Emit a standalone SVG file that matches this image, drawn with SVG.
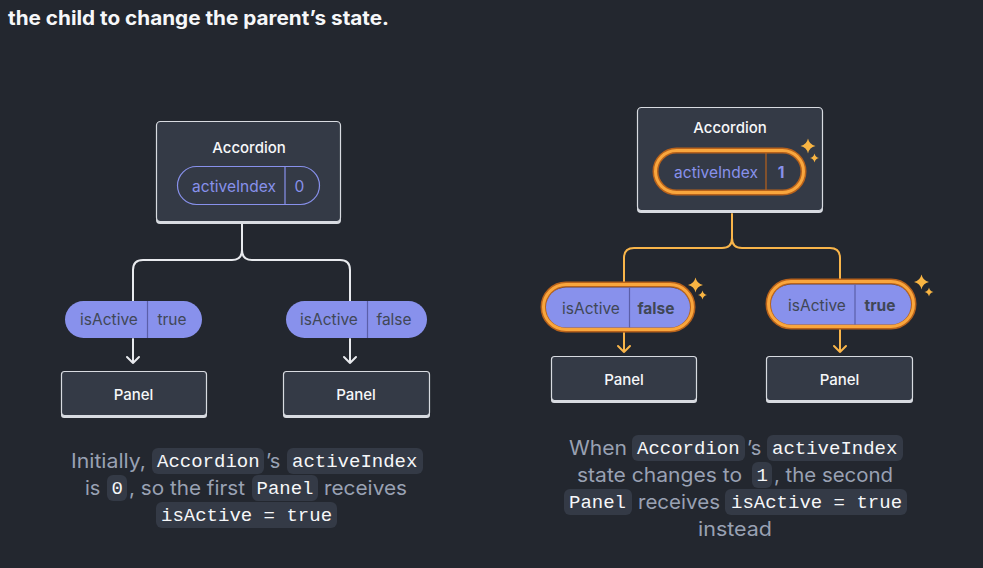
<svg xmlns="http://www.w3.org/2000/svg" width="983" height="568" viewBox="0 0 983 568">
<defs>
<style>
.bg{fill:#23272f}
.title{font-family:Inter,"Liberation Sans",sans-serif;font-weight:700;font-size:19.5px;fill:#f6f7f9}
.boxsh{fill:#d8dbe1}
.box{fill:#343a46;stroke:#d8dbe1;stroke-width:1.2}
.lbl{font-family:Inter,"Liberation Sans",sans-serif;font-weight:500;font-size:15px;fill:#f6f7f9;text-anchor:middle}
.ptxt{font-family:Inter,"Liberation Sans",sans-serif;font-size:15.5px;fill:#404756;text-anchor:middle}
.ptxtb{font-family:Inter,"Liberation Sans",sans-serif;font-size:15.5px;font-weight:700;fill:#404756;text-anchor:middle}
.stxt{font-family:Inter,"Liberation Sans",sans-serif;font-size:15.5px;fill:#8891ec;text-anchor:middle}
.stxtb{font-family:Inter,"Liberation Sans",sans-serif;font-size:15.5px;font-weight:700;fill:#8891ec;text-anchor:middle}
.pill{fill:#8891ec}
.div{stroke:#5b5fa8;stroke-width:1.2}
.spill{fill:none;stroke:#8891ec;stroke-width:1.2}
.ringo{fill:none;stroke:#b8621b;stroke-width:6}
.ringi{fill:none;stroke:#f9a63d;stroke-width:3}
.wline{fill:none;stroke:#e8eaee;stroke-width:2;stroke-linecap:round;stroke-linejoin:round}
.oline{fill:none;stroke:#f9b54a;stroke-width:2;stroke-linecap:round;stroke-linejoin:round}
.cap{font-family:Inter,"Liberation Sans",sans-serif;font-size:20px;fill:#99a1b3}
.code{font-family:"Liberation Mono","DejaVu Sans Mono",monospace;font-size:19px;fill:#f6f7f9}
.codebg{fill:#343a46}
.spark{fill:#f9b543}
</style>
<path id="sparkBig" d="M0,-7.5 Q1.3,-1.3 7.5,0 Q1.3,1.3 0,7.5 Q-1.3,1.3 -7.5,0 Q-1.3,-1.3 0,-7.5Z" class="spark"/>
<path id="sparkSm" d="M0,-4.5 Q0.8,-0.8 4.5,0 Q0.8,0.8 0,4.5 Q-0.8,0.8 -4.5,0 Q-0.8,-0.8 0,-4.5Z" class="spark"/>
</defs>
<rect class="bg" x="0" y="0" width="983" height="568"/>
<text class="title" x="8" y="25" textLength="381" lengthAdjust="spacingAndGlyphs">the child to change the parent’s state.</text>

<g id="connectors">
  <path class="wline" d="M242,224 V250 Q242,260 232,260 H143 Q133,260 133,270 V301"/>
  <path class="wline" d="M242,250 Q242,260 252,260 H340 Q350,260 350,270 V301"/>
  <path class="wline" d="M133,339 V363 M127,357 L133,363 L139,357"/>
  <path class="wline" d="M350,339 V363 M344,357 L350,363 L356,357"/>
  <path class="oline" d="M732,214 V238 Q732,248 722,248 H634 Q624,248 624,258 V283"/>
  <path class="oline" d="M732,238 Q732,248 742,248 H830 Q840,248 840,258 V280"/>
  <path class="oline" d="M624,333 V352 M618,346 L624,352 L630,346"/>
  <path class="oline" d="M840,330 V352 M834,346 L840,352 L846,346"/>
</g>

<g id="accordion-left">
  <rect class="boxsh" x="156" y="123" width="185" height="101" rx="4"/>
  <rect class="box" x="156.5" y="121.5" width="184" height="100" rx="4"/>
  <text class="lbl" x="249" y="153">Accordion</text>
  <rect class="spill" x="177.5" y="166.5" width="142" height="38" rx="19"/>
  <line class="spill" x1="285" y1="167" x2="285" y2="204"/>
  <text class="stxt" x="234" y="191.5">activeIndex</text>
  <text class="stxt" x="299.5" y="191.5">0</text>
</g>

<g id="prop-left-1">
  <rect class="pill" x="65" y="301" width="137" height="37" rx="18.5"/>
  <line class="div" x1="147.5" y1="301" x2="147.5" y2="338"/>
  <text class="ptxt" x="109" y="325">isActive</text>
  <text class="ptxt" x="172" y="325">true</text>
</g>
<g id="prop-left-2">
  <rect class="pill" x="286" y="301" width="141" height="37" rx="18.5"/>
  <line class="div" x1="367.5" y1="301" x2="367.5" y2="338"/>
  <text class="ptxt" x="329" y="325">isActive</text>
  <text class="ptxt" x="394" y="325">false</text>
</g>

<g id="panel-left-1">
  <rect class="boxsh" x="61" y="373" width="146" height="45" rx="3"/>
  <rect class="box" x="61.5" y="371.5" width="145" height="44" rx="3"/>
  <text class="lbl" x="133.5" y="400">Panel</text>
</g>
<g id="panel-left-2">
  <rect class="boxsh" x="283" y="373" width="147" height="45" rx="3"/>
  <rect class="box" x="283.5" y="371.5" width="146" height="44" rx="3"/>
  <text class="lbl" x="356" y="400">Panel</text>
</g>

<g id="accordion-right">
  <rect class="boxsh" x="637" y="109" width="186" height="104" rx="4"/>
  <rect class="box" x="637.5" y="107.5" width="185" height="103" rx="4"/>
  <text class="lbl" x="730" y="133">Accordion</text>
  <rect class="ringo" x="655.5" y="150.5" width="148" height="42" rx="21"/>
  <rect class="ringi" x="655.5" y="150.5" width="148" height="42" rx="21"/>
  <line x1="766" y1="153" x2="766" y2="190" stroke="#b8621b" stroke-width="1.2"/>
  <text class="stxt" x="716" y="177.5">activeIndex</text>
  <text class="stxtb" x="781" y="177.5">1</text>
  <use href="#sparkBig" x="808" y="146"/>
  <use href="#sparkSm" x="814.5" y="158"/>
</g>

<g id="prop-right-1">
  <rect class="ringo" x="543.5" y="284.5" width="149" height="45" rx="22.5"/>
  <rect class="ringi" x="543.5" y="284.5" width="149" height="45" rx="22.5"/>
  <rect class="pill" x="546" y="287.5" width="144" height="40" rx="20"/>
  <line class="div" x1="629.5" y1="287.5" x2="629.5" y2="327.5"/>
  <text class="ptxt" x="591" y="313.5">isActive</text>
  <text class="ptxtb" x="656" y="313.5">false</text>
  <use href="#sparkBig" x="695.5" y="285"/>
  <use href="#sparkSm" x="702.5" y="295"/>
</g>
<g id="prop-right-2">
  <rect class="ringo" x="768.5" y="281.5" width="145" height="45" rx="22.5"/>
  <rect class="ringi" x="768.5" y="281.5" width="145" height="45" rx="22.5"/>
  <rect class="pill" x="771" y="284.5" width="140" height="40" rx="20"/>
  <line class="div" x1="855" y1="284.5" x2="855" y2="324.5"/>
  <text class="ptxt" x="817" y="311">isActive</text>
  <text class="ptxtb" x="880" y="311">true</text>
  <use href="#sparkBig" x="921.5" y="282"/>
  <use href="#sparkSm" x="929" y="292"/>
</g>

<g id="panel-right-1">
  <rect class="boxsh" x="551" y="357" width="146" height="46" rx="3"/>
  <rect class="box" x="551.5" y="356.5" width="145" height="44" rx="3"/>
  <text class="lbl" x="624" y="385">Panel</text>
</g>
<g id="panel-right-2">
  <rect class="boxsh" x="766" y="357" width="147" height="46" rx="3"/>
  <rect class="box" x="766.5" y="356.5" width="146" height="44" rx="3"/>
  <text class="lbl" x="839.5" y="385">Panel</text>
</g>

<g id="caption-left">
  <rect class="codebg" x="152" y="448" width="112" height="26" rx="6"/>
  <rect class="codebg" x="287" y="448" width="136" height="26" rx="6"/>
  <rect class="codebg" x="107" y="475" width="20" height="26" rx="6"/>
  <rect class="codebg" x="252" y="475" width="66" height="26" rx="6"/>
  <rect class="codebg" x="156" y="502" width="181" height="26" rx="6"/>
  <text class="cap" x="71" y="468" textLength="75" lengthAdjust="spacingAndGlyphs">Initially,</text>
  <text class="code" x="157" y="467">Accordion</text>
  <text class="cap" x="266" y="468">’s</text>
  <text class="code" x="292" y="467">activeIndex</text>
  <text class="cap" x="85" y="495">is</text>
  <text class="code" x="111.5" y="494">0</text>
  <text class="cap" x="129" y="495" textLength="116" lengthAdjust="spacingAndGlyphs">, so the first</text>
  <text class="code" x="256.5" y="494">Panel</text>
  <text class="cap" x="324" y="495" textLength="83" lengthAdjust="spacingAndGlyphs">receives</text>
  <text class="code" x="161" y="521">isActive = true</text>
</g>

<g id="caption-right">
  <rect class="codebg" x="632" y="435" width="113" height="26" rx="6"/>
  <rect class="codebg" x="767" y="435" width="136" height="26" rx="6"/>
  <rect class="codebg" x="752" y="462" width="20" height="26" rx="6"/>
  <rect class="codebg" x="564" y="489" width="68" height="26" rx="6"/>
  <rect class="codebg" x="725" y="489" width="182" height="26" rx="6"/>
  <text class="cap" x="569" y="455" textLength="58" lengthAdjust="spacingAndGlyphs">When</text>
  <text class="code" x="637" y="454">Accordion</text>
  <text class="cap" x="747" y="455">’s</text>
  <text class="code" x="772" y="454">activeIndex</text>
  <text class="cap" x="577" y="482" textLength="165" lengthAdjust="spacingAndGlyphs">state changes to</text>
  <text class="code" x="756.5" y="481">1</text>
  <text class="cap" x="774" y="482" textLength="119" lengthAdjust="spacingAndGlyphs">, the second</text>
  <text class="code" x="569" y="508">Panel</text>
  <text class="cap" x="638" y="509" textLength="82" lengthAdjust="spacingAndGlyphs">receives</text>
  <text class="code" x="731" y="508">isActive = true</text>
  <text class="cap" x="698" y="536" textLength="74" lengthAdjust="spacingAndGlyphs">instead</text>
</g>
</svg>
